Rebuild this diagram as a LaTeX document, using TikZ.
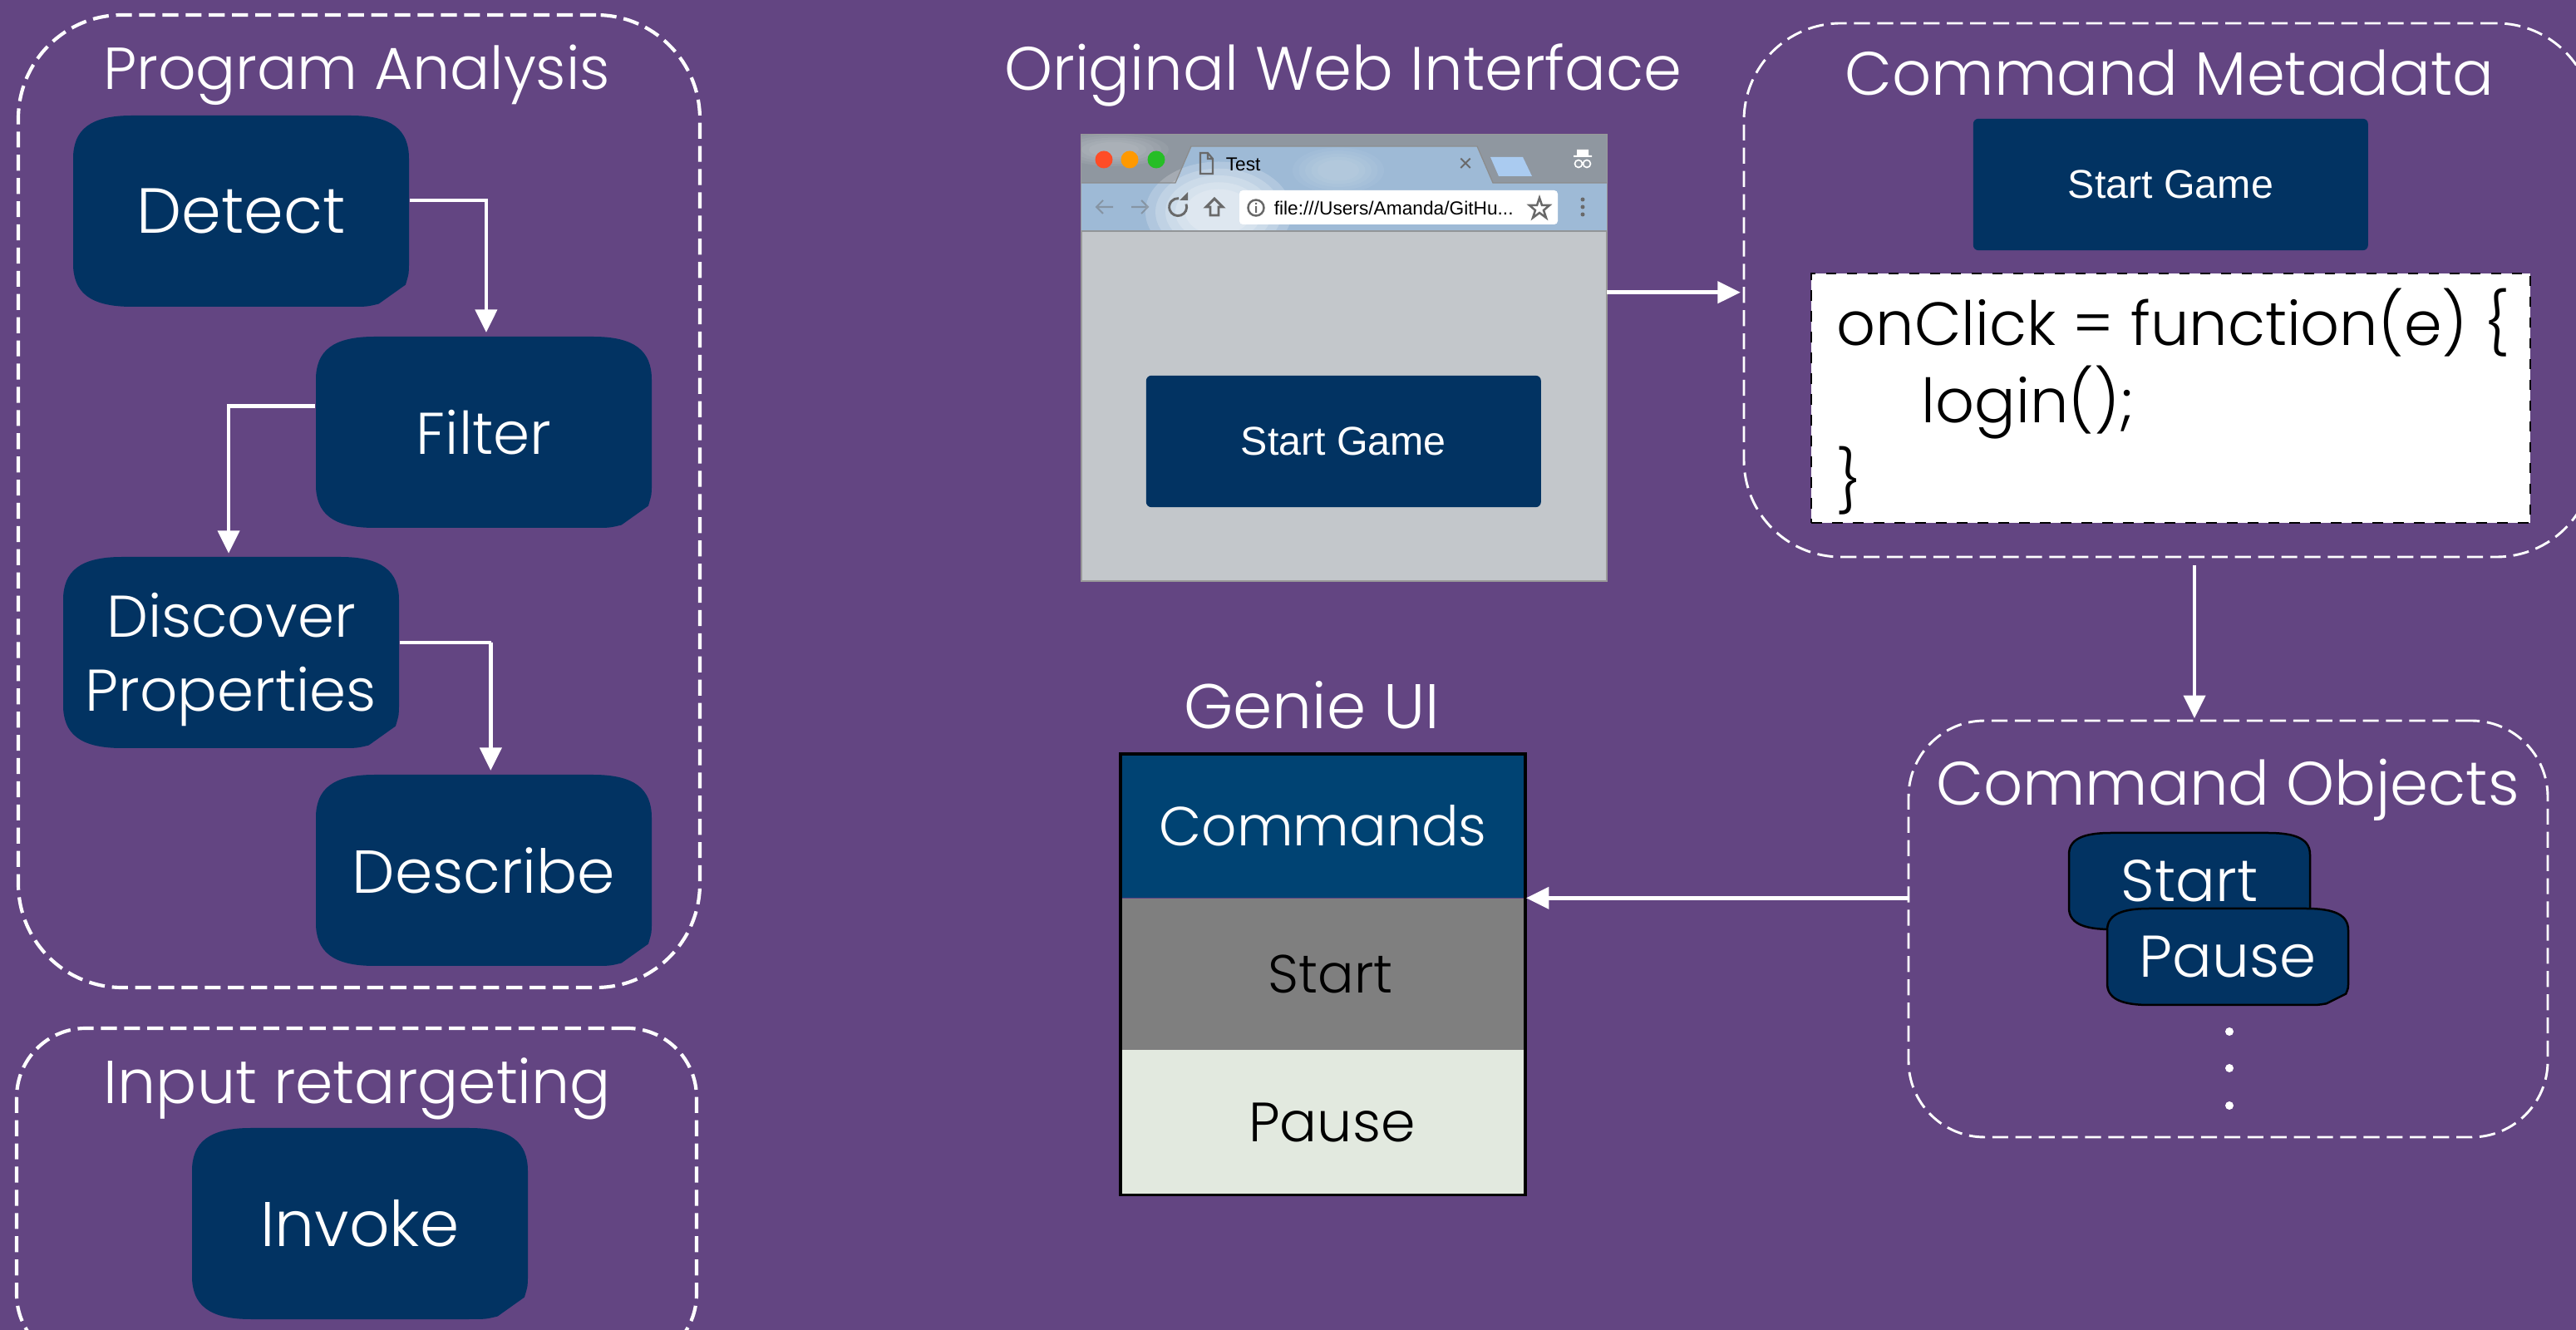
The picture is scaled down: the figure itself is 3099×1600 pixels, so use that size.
\documentclass[tikz,border=0pt]{standalone}
\usepackage{fontspec}
\setmainfont{Poppins Light}
\newfontfamily\uifont{Liberation Sans}
\usetikzlibrary{arrows.meta}

\definecolor{slidepurple}{RGB}{99,69,130}
\definecolor{boxnavy}{RGB}{2,51,98}
\definecolor{headblue}{RGB}{0,67,115}
\definecolor{rowgrey}{RGB}{127,127,127}
\definecolor{rowpale}{RGB}{226,233,223}
\definecolor{pagegrey}{RGB}{195,199,203}
\definecolor{barsky}{RGB}{158,186,214}
\definecolor{bargrey}{RGB}{143,151,160}
\definecolor{newtabblue}{RGB}{170,203,240}
\definecolor{iconGrey}{RGB}{105,105,105}

% block with one snipped corner; #1 style, #2 name, #3 centre, #4 half width, #5 half height, #6 text
\newcommand{\snipblock}[6]{
  \draw [#1, shift={#3}, xscale=#4, yscale=#5]
    (-1,-0.55) .. controls (-1,-0.85) and (-0.9,-1) .. (-0.65,-1)
    -- (0.65,-1) .. controls (0.9,-1) and (1,-0.85) .. (1,-0.55)
    -- (1,0.55) .. controls (1,0.65) .. (0.98,0.77)
    -- (0.82,0.97) .. controls (0.75,1) .. (0.65,1)
    -- (-0.65,1) .. controls (-0.9,1) and (-1,0.85) .. (-1,0.55) -- cycle ;
  \node [text=white, inner sep=0, minimum width=2*#4*0.24pt, minimum height=2*#5*0.24pt, align=center] (#2) at #3 {#6};
}

\tikzset{
  every node/.style={font=\fontsize{17}{20}\selectfont},
  group/.style={draw=white, line width=1pt, dash pattern=on 4.6pt off 2.1pt, rounded corners=30pt, inner sep=0, outer sep=0, anchor=north west},
  thingroup/.style={group, line width=0.7pt},
  grouptitle/.style={text=white, inner sep=0, font=\fontsize{17.7}{20}\selectfont},
  block/.style={fill=boxnavy, draw=none},
  smallblock/.style={fill=boxnavy, draw=black, line width=0.6pt},
  flow/.style={draw=white, line width=1.1pt, -{Triangle[length=6.6pt,width=6.2pt]}},
  webbutton/.style={fill=boxnavy, rounded corners=1.5pt, text=white, inner sep=0, font=\uifont\fontsize{11.6}{13}\selectfont, minimum width=114pt, minimum height=38pt, anchor=north west},
  rowcell/.style={inner sep=0, outer sep=0, anchor=north west, text width=116.9pt, align=center},
  codeline/.style={anchor=west, inner sep=0, font=\fontsize{17.6}{20}\selectfont},
  uiicon/.style={draw=iconGrey, line width=0.5pt},
  uitext/.style={inner sep=0, font=\uifont\fontsize{5.45}{6}\selectfont},
}

\begin{document}
\begin{tikzpicture}[x=0.24pt,y=0.24pt,yscale=-1,xscale=1]
\useasboundingbox (0,0) rectangle (3099,1600);
\fill [slidepurple] (0,0) rectangle (3099,1600);

% left column
\node [group, minimum width=820*0.24pt, minimum height=1170*0.24pt] (analysisgroup) at (22,18) {};
\begin{scope}
\clip (0,0) rectangle (3099,1600);
\node [group, rounded corners=20pt, minimum width=818*0.24pt, minimum height=403*0.24pt] (inputgroup) at (20,1237) {};
\end{scope}
\node [grouptitle, font=\fontsize{17.1}{20}\selectfont] (analysistitle) at (429,90) {Program Analysis};
\node [grouptitle, font=\fontsize{17.5}{20}\selectfont] (inputtitle) at (430,1310) {Input retargeting};
\snipblock{block}{detect}{(290,254)}{202}{115}{\fontsize{18.4}{20}\selectfont Detect}
\snipblock{block}{filter}{(582,520)}{202}{115}{Filter}
\snipblock{block}{discover}{(278,785)}{202}{115}{\rule{0pt}{17pt}Discover\\[1.3pt]Properties}
\snipblock{block}{describe}{(582,1047)}{202}{115}{\fontsize{17.5}{20}\selectfont Describe}
\snipblock{block}{invoke}{(433,1472)}{202}{115}{\fontsize{18.2}{20}\selectfont Invoke}
\draw [flow] ([yshift=-3.1pt]detect.east) -- ++(92,0) -| ([xshift=0.7pt,yshift=-1pt]filter.north);
\draw [flow] ([yshift=-7.6pt]filter.west) -- ++(-104,0) -| ([xshift=-0.7pt,yshift=-0.8pt]discover.north);
\draw [flow] ([yshift=-2.9pt]discover.east) -- ++(110,0) -| ([xshift=2pt,yshift=-1pt]describe.north);

% browser window
\node [grouptitle] (webtitle) at (1616,90) {Original Web Interface};
\node [fill=pagegrey, draw=gray!80, line width=0.3pt, inner sep=0, outer sep=0, minimum width=632*0.24pt, minimum height=537*0.24pt, anchor=north west] (browserwin) at (1301,162) {};
\begin{scope}
\clip (1301,162) rectangle (1933,279);
\fill [bargrey] (1301,162) rectangle (1933,220);
\fill [barsky] (1301,220) rectangle (1933,279);
\fill [barsky] (1414,220) -- (1433,176) -- (1777,176) -- (1796,220) -- cycle;
\foreach \cloudsize in {0.5,0.65,0.8,0.95,1.1} {
  \fill [white, opacity=0.2] (1466,255) ellipse (\cloudsize*80 and \cloudsize*55);
  \fill [white, opacity=0.05] (1610,205) ellipse (\cloudsize*50 and \cloudsize*25);
  \fill [white, opacity=0.06] (1340,180) ellipse (\cloudsize*60 and \cloudsize*18);
}
\draw [gray!90, line width=0.3pt] (1301,220) -- (1414,220) -- (1433,176) -- (1777,176) -- (1796,220) -- (1933,220);
\end{scope}
\fill [newtabblue] (1793,189) -- (1832,189) -- (1843,212) -- (1803,212) -- cycle;
\fill [pagegrey!75!black] (1301,277.5) rectangle (1933,279.5);
\fill [red!65!orange!85!white] (1328,192) circle (10.5);
\fill [orange!80!yellow] (1359,192) circle (10.5);
\fill [green!70!black!85!white] (1391,192) circle (10.5);
\draw [uiicon, fill=none] (1444,184) -- (1453,184) -- (1459,191) -- (1459,209) -- (1444,209) -- cycle (1453,184) -- (1453,191) -- (1459,191);
\node [uitext, anchor=west] (tabtext) at (1474,198) {Test};
\node [uitext, text=iconGrey, font=\uifont\fontsize{7}{8}\selectfont] (tabclose) at (1763,198) {×};
% toolbar icons
\draw [uiicon, opacity=0.45] (1339,249) -- (1319,249) (1327,241) -- (1319,249) -- (1327,257);
\draw [uiicon, opacity=0.45] (1361,249) -- (1381,249) (1373,241) -- (1381,249) -- (1373,257);
\draw [uiicon, line width=0.7pt] (1427,245.5) arc (-20:275:10.5);
\fill [iconGrey] (1419,241) -- (1429,241) -- (1429,231) -- cycle;
\draw [uiicon, line width=0.7pt] (1451,249) -- (1461,239) -- (1471,249) -- (1466,249) -- (1466,259) -- (1456,259) -- (1456,249) -- cycle;
\fill [white, rounded corners=1pt] (1491,229) rectangle (1874,270);
\draw [uiicon, line width=0.6pt] (1511,250) circle (9.5);
\fill [iconGrey] (1510,248) rectangle (1512,256) (1510,244) rectangle (1512,246);
\node [uitext, anchor=west] (urltext) at (1532,250) {file:///Users/Amanda/GitHu...};
\draw [uiicon, line width=0.6pt] (1852,238) -- (1855,247) -- (1864,247) -- (1857,253) -- (1860,262) -- (1852,256) -- (1844,262) -- (1847,253) -- (1840,247) -- (1849,247) -- cycle;
\fill [iconGrey] (1904,240) circle (2.5) (1904,249) circle (2.5) (1904,258) circle (2.5);
\fill [white] (1893,187) rectangle (1915,189) (1897,180) rectangle (1911,187);
\draw [white, line width=0.4pt] (1899,197) circle (4.5) (1909,197) circle (4.5) (1903,196) -- (1905,196);
\node [webbutton] (pagebutton) at (1378,451) {Start Game};

% command metadata
\node [thingroup, rounded corners=28pt, minimum width=1022*0.24pt, minimum height=642*0.24pt] (metagroup) at (2098,28) {};
\node [grouptitle] (metatitle) at (2610,88) {Command Metadata};
\node [webbutton] (metabutton) at (2373,142) {Start Game};
\node [draw=black, fill=white, dashed, line width=0.5pt, minimum width=207.6pt, minimum height=72pt, anchor=north west, inner sep=0] (codebox) at (2178,328) {};
\node [codeline] (codeone) at (2209,388) {onClick = function(e) \{};
\node [codeline] (codetwo) at (2311,484) {login();};
\node [codeline] (codethree) at (2209,578) {\}};

% command objects
\node [thingroup, rounded corners=22pt, minimum width=769*0.24pt, minimum height=501*0.24pt] (objectsgroup) at (2296,867) {};
\node [grouptitle] (objectstitle) at (2680,950) {Command Objects};
\snipblock{smallblock}{startobj}{(2634,1060)}{145}{58}{Start}
\snipblock{smallblock}{pauseobj}{(2680,1151)}{145}{58}{Pause}
\fill [white] (2682,1241) circle (5) (2682,1285) circle (5) (2682,1330) circle (5);

% genie ui
\node [grouptitle, font=\fontsize{18.2}{20}\selectfont] (genietitle) at (1578,848) {Genie UI};
\node [rowcell, fill=headblue, text=white, minimum height=41.6pt, font=\fontsize{15.9}{18}\selectfont] (rowhead) at (1348,907) {Commands};
\node [rowcell, fill=rowgrey, text=black, minimum height=43.7pt, font=\fontsize{15.5}{18}\selectfont] (rowstart) at (1348,1081) {\hspace*{4.3pt}Start};
\node [rowcell, fill=rowpale, text=black, minimum height=41.9pt, font=\fontsize{16}{18}\selectfont] (rowpause) at (1348,1263) {\hspace*{5.2pt}Pause};
\draw [black, line width=0.9pt] (rowhead.north west) rectangle (rowpause.south east);

% arrows between panels
\coordinate (browserexit) at ([yshift=-18.9pt]browserwin.east);
\draw [flow, shorten >=1pt] (browserexit) -- (browserexit -| metagroup.west);
\coordinate (metaexit) at (2640,680);
\draw [flow, shorten >=0.7pt] (metaexit) -- (metaexit |- objectsgroup.north);
\draw [flow, shorten >=0.2pt] (rowhead.south east -| objectsgroup.west) -- (rowhead.south east);
\end{tikzpicture}
\end{document}
